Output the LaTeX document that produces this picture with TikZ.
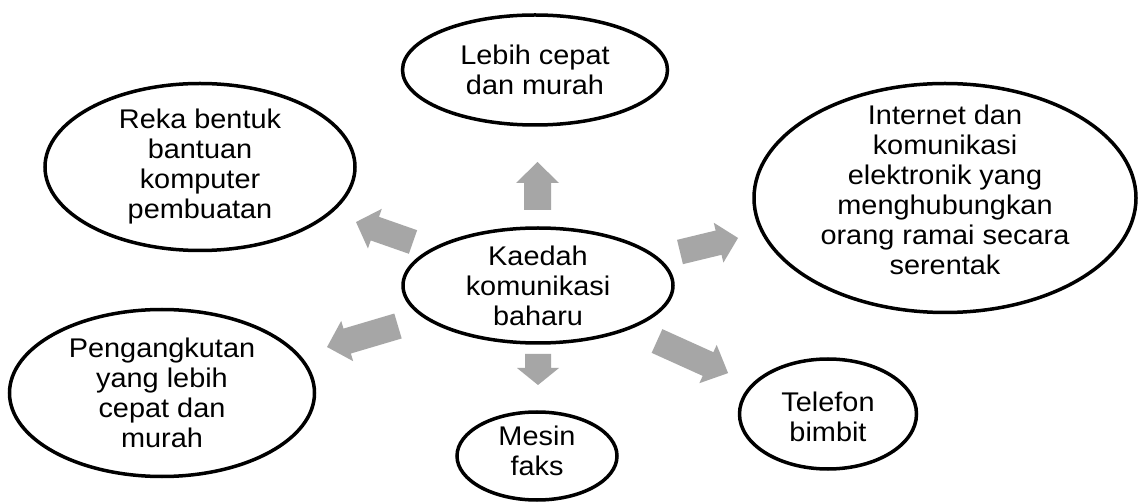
\documentclass[tikz,border=0pt]{standalone}
\usepackage{fontspec}
\setmainfont{Liberation Sans}[FakeStretch=1.07]
\usetikzlibrary{shapes.geometric}
\definecolor{arrowgray}{HTML}{A6A6A6}
\tikzset{
  oval/.style={ellipse, draw=black, line width=3.5pt, fill=white, inner sep=0pt},
  txt/.style={align=center, inner sep=0pt, font=\fontsize{27}{30}\selectfont},
  pics/blockarrow/.style n args={4}{code={
    \fill[arrowgray] (0,-#2) -- ({#1-#4},-#2) -- ({#1-#4},-#3) -- (#1,0)
      -- ({#1-#4},#3) -- ({#1-#4},#2) -- (0,#2) -- cycle;}}
}
\begin{document}
\begin{tikzpicture}[x=1pt,y=1pt]
\useasboundingbox[fill=white] (0,0) rectangle (1138,-502);

% ellipses
\node[oval, minimum width=270, minimum height=115] (center) at (538,-285.5) {};
\node[txt] at (center) {Kaedah\\komunikasi\\baharu};

\node[oval, minimum width=265, minimum height=110] (lebih) at (535,-70) {};
\node[txt] at (lebih) {Lebih cepat\\dan murah};

\node[oval, minimum width=310, minimum height=167] (reka) at (200,-167) {};
\node[txt] at (reka) {Reka bentuk\\bantuan\\komputer\\pembuatan};

\node[oval, minimum width=382, minimum height=229] (inet) at (945,-198) {};
\node[txt] at ([yshift=8]inet.center) {Internet dan\\komunikasi\\elektronik yang\\menghubungkan\\orang ramai secara\\serentak};

\node[oval, minimum width=305, minimum height=167] (angkut) at (162,-393) {};
\node[txt] at (angkut) {Pengangkutan\\yang lebih\\cepat dan\\murah};

\node[oval, minimum width=160, minimum height=88] (faks) at (537,-456) {};
\node[txt] at ([yshift=5]faks.center) {Mesin\\faks};

\node[oval, minimum width=177, minimum height=110] (telefon) at (828,-414) {};
\node[txt] at ([yshift=-3]telefon.center) {Telefon\\bimbit};

% block arrows
\coordinate (aup) at (537.5,-210);
\coordinate (adown) at (538,-354);
\coordinate (aul) at (413,-242);
\coordinate (aur) at (680,-252);
\coordinate (all) at (398,-326);
\coordinate (alr) at (657,-341);
\pic[rotate=90] at (aup) {blockarrow={48}{13.5}{21.5}{21}};
\pic[rotate=-90] at (adown) {blockarrow={31}{13}{21}{17}};
\pic[rotate=160.7] at (aul) {blockarrow={60.4}{12.5}{21}{20}};
\pic[rotate=13.6] at (aur) {blockarrow={59.7}{12.5}{20.5}{20}};
\pic[rotate=196.5] at (all) {blockarrow={74}{13}{21}{21}};
\pic[rotate=-24.3] at (alr) {blockarrow={78}{13}{21}{22}};
\end{tikzpicture}
\end{document}
